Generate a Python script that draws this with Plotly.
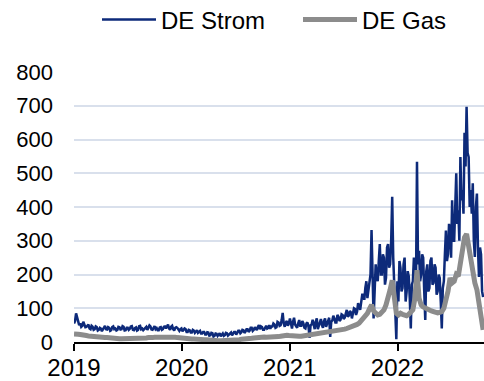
import pandas as pd
import plotly.graph_objects as go

# Values (EUR/MWh)
strom_start = "2019-01-01"   # twice-weekly readings
gas_start = "2019-01-01"     # weekly readings

de_strom = [
    55, 62, 85, 70, 58, 50, 55, 45, 48, 60, 52, 44, 45, 50, 52, 40, 38, 48, 45, 36,
    38, 46, 44, 34, 36, 42, 40, 32, 39, 45, 48, 38, 37, 44, 42, 33, 35, 44, 46, 38,
    40, 34, 36, 45, 44, 37, 38, 47, 45, 34, 35, 42, 42, 36, 39, 46, 47, 36, 35, 41,
    43, 34, 36, 47, 48, 38, 40, 35, 38, 44, 45, 36, 42, 49, 46, 37, 36, 44, 47, 38,
    41, 35, 35, 43, 44, 36, 38, 45, 46, 40, 48, 52, 40, 36, 45, 48, 38, 34, 42, 44,
    42, 35, 33, 38, 40, 32, 36, 40, 38, 30, 30, 36, 35, 28, 28, 36, 34, 27, 31, 35,
    27, 32, 33, 25, 25, 30, 30, 22, 22, 29, 28, 19, 20, 27, 26, 16, 18, 25, 24, 18,
    21, 26, 17, 22, 25, 18, 20, 27, 26, 19, 22, 28, 28, 20, 24, 30, 30, 22, 27, 33,
    33, 26, 29, 36, 35, 27, 31, 38, 38, 30, 34, 42, 42, 33, 36, 44, 40, 35, 45, 50,
    38, 46, 44, 36, 36, 45, 48, 40, 42, 50, 39, 46, 46, 55, 52, 42, 44, 60, 58, 48,
    50, 65, 86, 55, 45, 58, 62, 48, 55, 70, 48, 40, 60, 72, 52, 44, 42, 55, 65, 48,
    48, 62, 56, 42, 40, 55, 58, 45, 12, 50, 52, 66, 45, 38, 60, 70, 38, 50, 55, 68,
    50, 42, 62, 70, 45, 55, 58, 72, 15, 60, 64, 78, 70, 58, 58, 80, 75, 62, 66, 82,
    80, 68, 72, 90, 95, 75, 78, 92, 88, 70, 82, 100, 98, 80, 90, 115, 105, 95, 118, 140,
    140, 125, 160, 180, 130, 150, 175, 200, 332, 160, 70, 150, 230, 190, 180, 240, 290, 200, 200, 260,
    250, 170, 190, 280, 290, 220, 230, 300, 430, 250, 150, 60, 8, 180, 120, 240, 220, 150, 160, 230,
    250, 120, 150, 210, 195, 130, 40, 170, 180, 250, 240, 160, 534, 230, 270, 180, 200, 260, 250, 150,
    65, 210, 230, 150, 160, 240, 250, 170, 175, 230, 220, 140, 150, 200, 190, 120, 40, 160, 180, 260,
    330, 240, 260, 350, 320, 250, 420, 300, 300, 400, 500, 350, 390, 300, 548, 420, 450, 380, 620, 520,
    697, 560, 548, 400, 450, 380, 470, 300, 252, 400, 440, 280, 193, 280, 260, 150, 133,
]

de_gas = [
    24, 25, 23, 22, 20, 21, 19, 18, 17, 16,
    16, 15, 15, 14, 14, 13, 13, 12, 12, 12,
    11, 11, 10, 10, 10, 9, 10, 11, 11, 10,
    10, 11, 11, 12, 11, 12, 13, 12, 13, 14,
    14, 15, 16, 17, 17, 16, 15, 15, 14, 14,
    13, 12, 12, 11, 11, 10, 10, 9, 9, 8,
    8, 8, 7, 7, 7, 6, 6, 5, 5, 5,
    4, 4, 4, 5, 5, 5, 6, 6, 6, 7,
    7, 8, 8, 9, 9, 10, 11, 12, 13, 13,
    14, 14, 15, 14, 14, 13, 14, 15, 16, 16,
    17, 19, 20, 20, 19, 18, 17, 17, 16, 17,
    17, 18, 19, 20, 20, 21, 22, 22, 23, 24,
    25, 25, 26, 27, 28, 29, 30, 32, 34, 36,
    37, 38, 40, 42, 44, 46, 48, 52, 56, 62,
    68, 75, 85, 98, 110, 92, 85, 80, 82, 88,
    95, 110, 130, 155, 183, 120, 85, 80, 85, 82,
    80, 78, 82, 88, 95, 130, 213, 130, 110, 104,
    100, 98, 95, 92, 90, 88, 86, 88, 90, 100,
    120, 150, 190, 175, 180, 200, 195, 230, 280, 310,
    320, 280, 240, 193, 175, 155, 110, 74, 36,
]

year_ticks = ["2019-01-01", "2020-01-01", "2021-01-01", "2022-01-01"]
year_labels = ["2019", "2020", "2021", "2022"]
y_ticks = [0, 100, 200, 300, 400, 500, 600, 700, 800]

dates_strom = pd.date_range(strom_start, periods=len(de_strom), freq="84h")
dates_gas = pd.date_range(gas_start, periods=len(de_gas), freq="7D")

font_family = "Liberation Sans, Arial, sans-serif"
W, H = 484, 381

fig = go.Figure()
fig.add_trace(go.Scatter(
    x=dates_strom, y=de_strom, name="DE Strom", mode="lines",
    line=dict(color="#0d2a7a", width=2.5), legend="legend",
))
fig.add_trace(go.Scatter(
    x=dates_gas, y=de_gas, name="DE Gas", mode="lines",
    line=dict(color="#8c8c8c", width=5), legend="legend2",
))

legend_common = dict(
    orientation="h",
    xref="container", yref="container",
    xanchor="left",
    y=1 - 20 / H, yanchor="middle",
    font=dict(size=24, family=font_family, color="black"),
    itemwidth=54,
    bgcolor="rgba(0,0,0,0)",
)

fig.update_layout(
    width=W, height=H,
    margin=dict(l=74, r=0, t=72, b=39, autoexpand=False),
    paper_bgcolor="white", plot_bgcolor="white",
    font=dict(family=font_family, color="black"),
    showlegend=True,
    legend=dict(x=97 / W, **legend_common),
    legend2=dict(x=298 / W, **legend_common),
    xaxis=dict(
        type="date",
        range=["2019-01-01", "2022-10-21"],
        tickvals=year_ticks, ticktext=year_labels,
        ticks="outside", ticklen=7, tickwidth=2, tickcolor="black",
        showline=True, linecolor="black", linewidth=2,
        showgrid=False, zeroline=False, automargin=False,
        ticklabelstandoff=-4,
        tickfont=dict(size=24, family=font_family, color="black"),
    ),
    yaxis=dict(
        range=[0, 800],
        tickvals=y_ticks,
        showgrid=True, gridcolor="#d9e0ec", gridwidth=2,
        zeroline=False, showline=False, automargin=False,
        ticks="", ticklabelstandoff=20,
        tickfont=dict(size=22, family=font_family, color="black"),
    ),
)

fig.write_html("out.html")
